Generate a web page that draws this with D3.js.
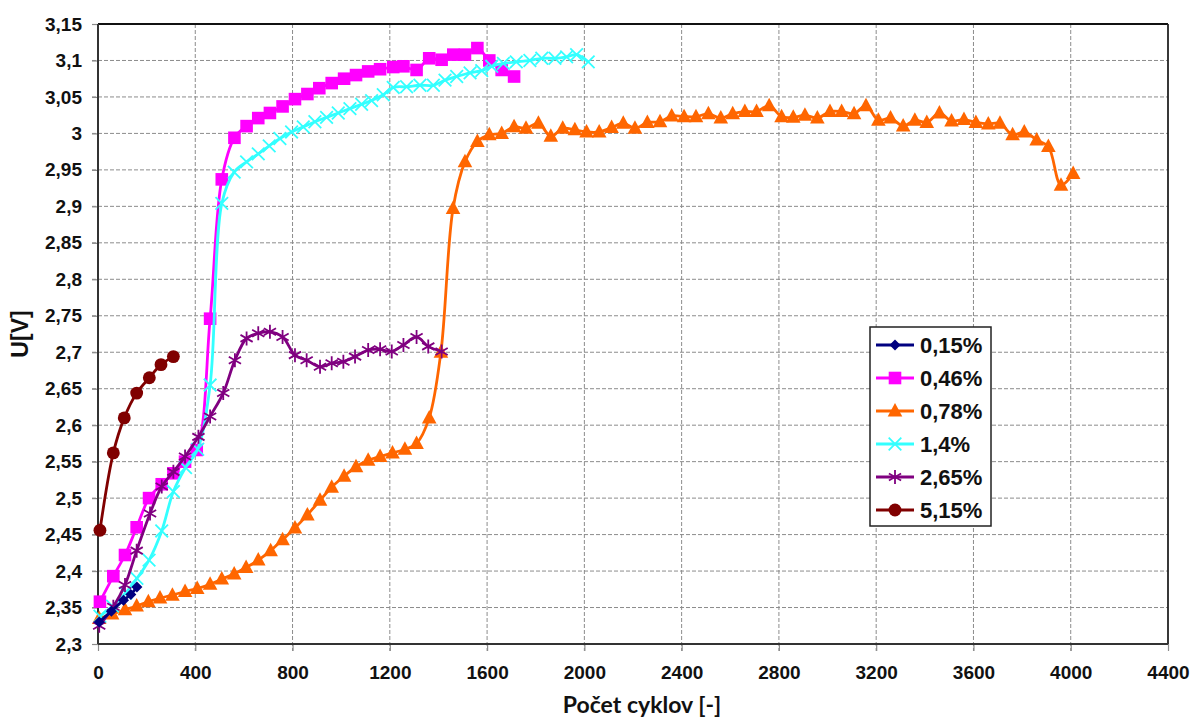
<!DOCTYPE html>
<html>
<head>
<meta charset="utf-8">
<script src="https://cdn.jsdelivr.net/npm/d3@7"></script>
<style>
  body { margin: 0; background: #fff; }
  svg { display: block; }
</style>
</head>
<body>
<svg id="graf" width="1192" height="718"></svg>
<script>
// Data (cycles, voltage)
let cyc015 = [5, 55, 105, 135, 160];
let u015 = [2.33, 2.345, 2.36, 2.368, 2.378];

let cyc046 = [8, 63, 111, 159, 210, 262, 310, 358, 406, 461, 509, 561, 611, 659, 707, 759, 810, 861, 910, 961,
  1012, 1061, 1111, 1160, 1214, 1256, 1310, 1362, 1413, 1461, 1509, 1560, 1609, 1660, 1711];
let u046 = [2.358, 2.393, 2.422, 2.46, 2.5, 2.519, 2.534, 2.55, 2.566, 2.746, 2.937, 2.994, 3.01, 3.021, 3.028,
  3.037, 3.047, 3.054, 3.062, 3.069, 3.075, 3.08, 3.085, 3.088, 3.091, 3.092, 3.087, 3.103, 3.101, 3.108,
  3.108, 3.117, 3.1, 3.087, 3.078];

let cyc078 = [5, 58, 111, 159, 207, 255, 306, 358, 408, 461, 509, 560, 609, 659, 710, 759, 810, 861, 913, 961,
  1012, 1061, 1111, 1160, 1211, 1262, 1310, 1362, 1410, 1460, 1509, 1560, 1609, 1660, 1711, 1760, 1811, 1862,
  1911, 1961, 2009, 2061, 2112, 2160, 2208, 2259, 2311, 2359, 2410, 2459, 2510, 2561, 2610, 2660, 2708, 2760,
  2811, 2859, 2907, 2958, 3010, 3058, 3109, 3158, 3209, 3259, 3311, 3359, 3408, 3460, 3510, 3561, 3610, 3661,
  3709, 3761, 3809, 3860, 3908, 3960, 4010];
let u078 = [2.335, 2.341, 2.347, 2.352, 2.358, 2.363, 2.367, 2.372, 2.376, 2.382, 2.389, 2.396, 2.405, 2.415,
  2.428, 2.443, 2.459, 2.477, 2.497, 2.515, 2.53, 2.543, 2.552, 2.557, 2.562, 2.567, 2.575, 2.61, 2.7, 2.897,
  2.961, 2.989, 2.998, 3.0, 3.009, 3.007, 3.014, 2.996, 3.007, 3.005, 3.002, 3.002, 3.008, 3.014, 3.007, 3.015,
  3.016, 3.024, 3.023, 3.023, 3.027, 3.021, 3.027, 3.03, 3.03, 3.038, 3.023, 3.022, 3.025, 3.021, 3.03, 3.03,
  3.027, 3.038, 3.018, 3.021, 3.01, 3.018, 3.015, 3.028, 3.017, 3.019, 3.015, 3.013, 3.014, 2.998, 3.002,
  2.991, 2.982, 2.929, 2.945];

let cyc14 = [8, 60, 114, 160, 210, 262, 310, 360, 410, 461, 509, 560, 611, 659, 704, 748, 796, 844, 892, 940,
  988, 1036, 1084, 1125, 1173, 1214, 1269, 1324, 1379, 1427, 1475, 1530, 1578, 1619, 1667, 1720, 1776, 1825,
  1879, 1927, 1968, 2016];
let u14 = [2.338, 2.352, 2.37, 2.39, 2.415, 2.455, 2.509, 2.542, 2.567, 2.655, 2.904, 2.947, 2.961, 2.972,
  2.983, 2.993, 3.002, 3.009, 3.016, 3.022, 3.028, 3.034, 3.04, 3.045, 3.053, 3.063, 3.064, 3.066, 3.066,
  3.073, 3.078, 3.083, 3.086, 3.092, 3.096, 3.098, 3.1, 3.103, 3.103, 3.105, 3.108, 3.098];

let cyc265 = [5, 63, 111, 159, 214, 262, 310, 358, 413, 461, 515, 563, 611, 659, 707, 759, 810, 858, 913, 961,
  1009, 1057, 1111, 1160, 1208, 1256, 1310, 1358, 1413];
let u265 = [2.325, 2.351, 2.381, 2.428, 2.479, 2.516, 2.536, 2.557, 2.584, 2.612, 2.644, 2.689, 2.719, 2.726,
  2.728, 2.721, 2.696, 2.689, 2.68, 2.685, 2.687, 2.694, 2.703, 2.704, 2.701, 2.71, 2.721, 2.708, 2.701];

let cyc515 = [8, 63, 108, 159, 211, 259, 310];
let u515 = [2.456, 2.562, 2.61, 2.644, 2.665, 2.683, 2.694];

let nazvy = ["0,15%", "0,46%", "0,78%", "1,4%", "2,65%", "5,15%"];
let xTicks = [0, 400, 800, 1200, 1600, 2000, 2400, 2800, 3200, 3600, 4000, 4400];
let yTicks = [2.3, 2.35, 2.4, 2.45, 2.5, 2.55, 2.6, 2.65, 2.7, 2.75, 2.8, 2.85, 2.9, 2.95, 3, 3.05, 3.1, 3.15];

let serie = [
  { nazov: nazvy[0], x: cyc015, y: u015, farba: "#000080", znak: "diamond" },
  { nazov: nazvy[1], x: cyc046, y: u046, farba: "#ff00ff", znak: "square" },
  { nazov: nazvy[2], x: cyc078, y: u078, farba: "#ff6600", znak: "triangle" },
  { nazov: nazvy[3], x: cyc14, y: u14, farba: "#33ffff", znak: "cross" },
  { nazov: nazvy[4], x: cyc265, y: u265, farba: "#800080", znak: "star" },
  { nazov: nazvy[5], x: cyc515, y: u515, farba: "#800000", znak: "circle" }
];

// Plot area
let svg = d3.select("#graf");
let okraj = { left: 98, top: 24, right: 1192 - 1168, bottom: 718 - 644 };
let sirka = 1192 - okraj.left - okraj.right;
let vyska = 718 - okraj.top - okraj.bottom;

let fnX = d3.scaleLinear().domain([0, 4400]).range([0, sirka]);
let fnY = d3.scaleLinear().domain([2.3, 3.15]).range([vyska, 0]);

let plot = svg.append("g").attr("transform", `translate(${okraj.left},${okraj.top})`);

let ciarka = (d) => String(+d.toFixed(2)).replace(".", ",");

// Grid
plot.append("g")
  .selectAll("line")
  .data(xTicks.slice(1, -1))
  .enter()
  .append("line")
  .attr("x1", (d) => fnX(d)).attr("x2", (d) => fnX(d))
  .attr("y1", 0).attr("y2", vyska + 7)
  .attr("stroke", "#8c8c8c").attr("stroke-width", 1).attr("stroke-dasharray", "4,2");
plot.append("g")
  .selectAll("line")
  .data(yTicks.slice(1, -1))
  .enter()
  .append("line")
  .attr("x1", -6).attr("x2", sirka)
  .attr("y1", (d) => fnY(d)).attr("y2", (d) => fnY(d))
  .attr("stroke", "#8c8c8c").attr("stroke-width", 1).attr("stroke-dasharray", "4,2");

// Axes
let osX = plot.append("g")
  .attr("transform", `translate(0,${vyska})`)
  .call(d3.axisBottom(fnX).tickValues(xTicks).tickFormat((d) => d).tickSize(7).tickPadding(15));
let osY = plot.append("g")
  .call(d3.axisLeft(fnY).tickValues(yTicks).tickFormat(ciarka).tickSize(6).tickPadding(10));

[osX, osY].forEach((os) => {
  os.select(".domain").remove();
  os.selectAll(".tick line").attr("stroke", "#8c8c8c").attr("stroke-width", 1.2);
  os.selectAll(".tick text")
    .attr("fill", "#111")
    .style("font-family", "'Liberation Sans', Arial, sans-serif")
    .style("font-weight", "bold")
    .style("font-size", "19px");
});

// Frame
plot.append("line").attr("x1", 0).attr("x2", sirka).attr("y1", 0).attr("y2", 0)
  .attr("stroke", "#111").attr("stroke-width", 2);
plot.append("line").attr("x1", sirka).attr("x2", sirka).attr("y1", 0).attr("y2", vyska)
  .attr("stroke", "#222").attr("stroke-width", 1.8);
plot.append("line").attr("x1", 0).attr("x2", 0).attr("y1", 0).attr("y2", vyska)
  .attr("stroke", "#333").attr("stroke-width", 2);
plot.append("line").attr("x1", 0).attr("x2", sirka).attr("y1", vyska).attr("y2", vyska)
  .attr("stroke", "#333").attr("stroke-width", 2);

// Markers
function znacka(typ) {
  if (typ === "square") return "M-6.3,-6.3H6.3V6.3H-6.3Z";
  if (typ === "diamond") return "M0,-5.5L5.5,0L0,5.5L-5.5,0Z";
  if (typ === "triangle") return "M0,-8L7.3,5.5L-7.3,5.5Z";
  if (typ === "circle") return d3.symbol().type(d3.symbolCircle).size(130)();
  if (typ === "cross") return "M-6.3,-6.3L6.3,6.3M-6.3,6.3L6.3,-6.3";
  return "M0,-7V7M-6.1,-3.5L6.1,3.5M-6.1,3.5L6.1,-3.5";
}
let linkove = (typ) => typ === "cross" || typ === "star";

let ciara = d3.line()
  .x((d) => fnX(d[0]))
  .y((d) => fnY(d[1]))
  .curve(d3.curveCatmullRom.alpha(0.5));

let poradie = [1, 2, 3, 4, 5, 0];
poradie.forEach((i) => {
  let s = serie[i];
  let body = s.x.map((x, j) => [x, s.y[j]]);
  let g = plot.append("g");
  g.append("path")
    .datum(body)
    .attr("d", ciara)
    .attr("fill", "none")
    .attr("stroke", s.farba)
    .attr("stroke-width", 2.8);
  g.selectAll(".bod")
    .data(body)
    .enter()
    .append("path")
    .classed("bod", true)
    .attr("transform", (d) => `translate(${fnX(d[0])},${fnY(d[1])})`)
    .attr("d", znacka(s.znak))
    .attr("fill", linkove(s.znak) ? "none" : s.farba)
    .attr("stroke", s.farba)
    .attr("stroke-width", linkove(s.znak) ? 1.8 : 0);
});

// Axis titles
svg.append("text")
  .attr("transform", "translate(28,334) rotate(-90)")
  .attr("text-anchor", "middle")
  .style("font-family", "'Liberation Sans', Arial, sans-serif")
  .style("font-weight", "bold")
  .style("font-size", "23px")
  .attr("fill", "#111")
  .text("U[V]");

svg.append("text")
  .attr("x", 642)
  .attr("y", 713)
  .attr("text-anchor", "middle")
  .style("font-family", "Lato, 'Open Sans', sans-serif")
  .style("font-weight", "bold")
  .style("font-size", "23px")
  .attr("fill", "#111")
  .text("Počet cyklov [-]");

// Legend
let legenda = svg.append("g").attr("transform", "translate(870,327)");
legenda.append("rect")
  .attr("width", 121).attr("height", 199)
  .attr("fill", "#fff").attr("stroke", "#222").attr("stroke-width", 1.5);
let polozky = legenda.selectAll(".polozka")
  .data(serie)
  .enter()
  .append("g")
  .classed("polozka", true)
  .attr("transform", (d, i) => `translate(0,${18 + i * 33})`);
polozky.append("line")
  .attr("x1", 6).attr("x2", 44)
  .attr("stroke", (d) => d.farba).attr("stroke-width", 3);
polozky.append("path")
  .attr("transform", "translate(25,0)")
  .attr("d", (d) => znacka(d.znak))
  .attr("fill", (d) => (linkove(d.znak) ? "none" : d.farba))
  .attr("stroke", (d) => d.farba)
  .attr("stroke-width", (d) => (linkove(d.znak) ? 1.8 : 0));
polozky.append("text")
  .attr("x", 50)
  .attr("dy", "0.36em")
  .style("font-family", "'Liberation Sans', Arial, sans-serif")
  .style("font-weight", "bold")
  .style("font-size", "22px")
  .attr("fill", "#111")
  .text((d) => d.nazov);
</script>
</body>
</html>
